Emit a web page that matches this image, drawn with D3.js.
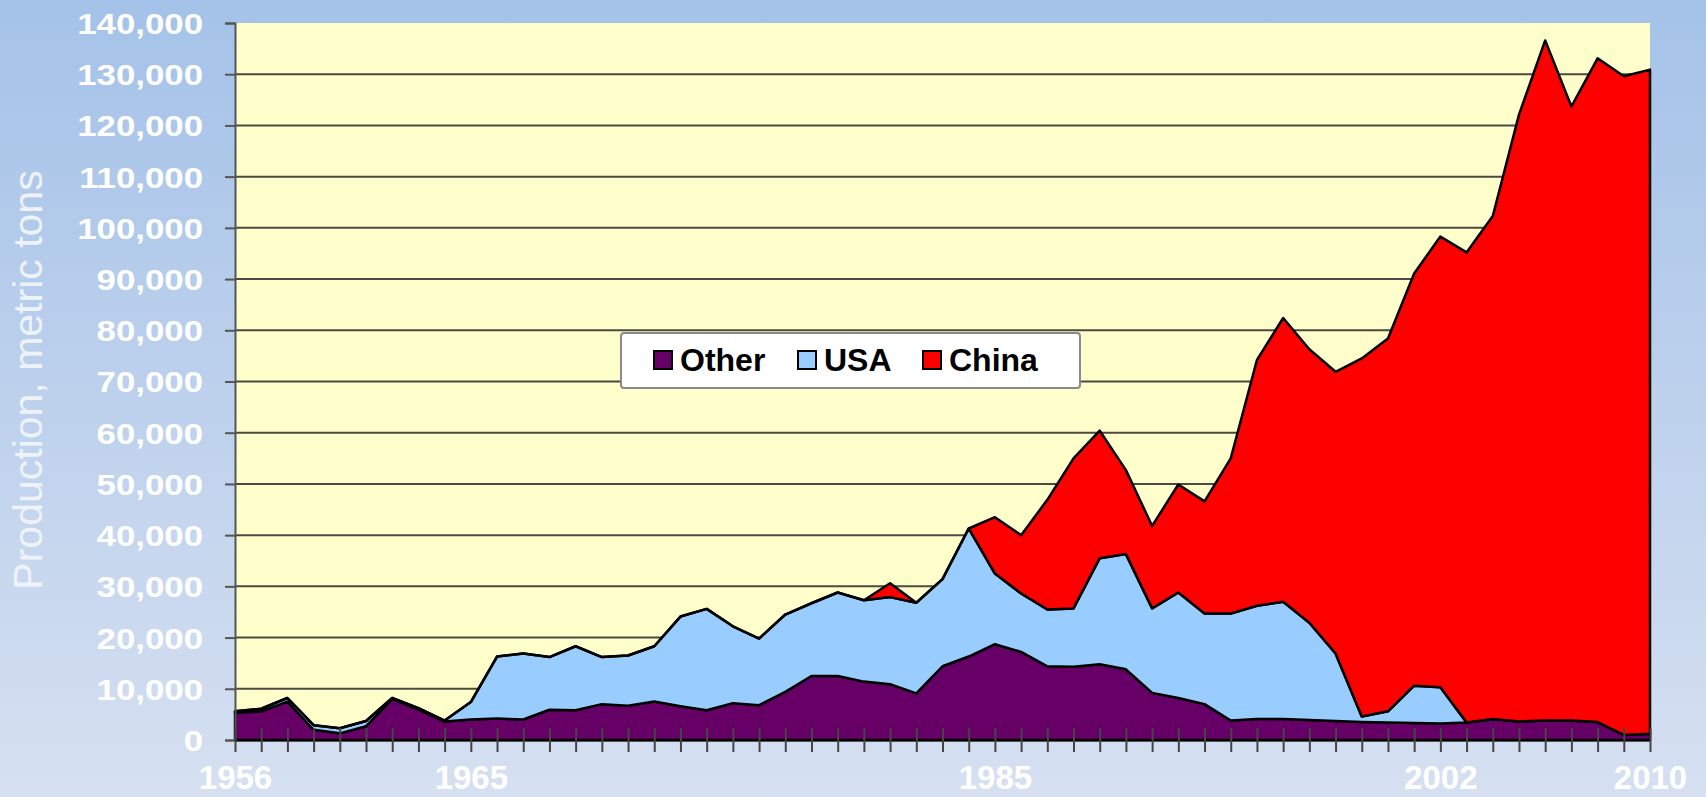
<!DOCTYPE html>
<html><head><meta charset="utf-8">
<script src="https://cdn.jsdelivr.net/npm/d3@7"></script>
<style>html,body{margin:0;padding:0;overflow:hidden;background:#c0d0ec}</style>
</head><body>
<svg id="chart" width="1706" height="797"></svg>
<script>
const years = [1956,1957,1958,1959,1960,1961,1962,1963,1964,1965,
  1966,1967,1968,1969,1970,1971,1972,1973,1974,1975,
  1976,1977,1978,1979,1980,1981,1982,1983,1984,1985,
  1986,1987,1988,1989,1990,1991,1992,1993,1994,1995,
  1996,1997,1998,1999,2000,2001,2002,2003,2004,2005,
  2006,2007,2008,2009,2010];
const other = [5300,5600,7500,2000,1300,2700,8000,6000,3600,4000,
  4200,4000,5900,5800,7000,6700,7500,6600,5800,7200,
  6800,9400,12500,12500,11400,10900,9100,14400,16300,18700,
  17200,14400,14300,14800,13800,9200,8200,7000,3800,4100,
  4100,3900,3700,3500,3400,3300,3200,3400,4100,3600,
  3800,3800,3500,1000,1200];
const usa = [300,500,700,900,1000,1000,200,200,200,3400,
  12100,12900,10300,12500,9200,9800,10800,17500,19800,15000,
  13000,15100,14200,16300,15900,17000,17700,17000,25000,13800,
  11400,11100,11400,20700,22500,16500,20600,17700,20900,22100,
  22900,19000,13200,1100,2200,7300,7100,0,0,0,
  0,0,0,0,0];
const china = [0,0,0,0,0,0,0,0,0,0,
  0,0,0,0,0,0,0,0,0,0,
  0,0,0,0,0,2700,0,0,0,11000,
  11400,21400,29300,24900,16400,16100,21100,21900,30300,48000,
  55400,53400,55000,69900,72800,80500,88000,91800,98200,118500,
  132800,119900,129600,128600,129700];
const seriesNames = ["Other","USA","China"];
const seriesColors = ["#660066","#99CCFF","#FF0000"];
const yTicks = [0,10000,20000,30000,40000,50000,60000,70000,80000,90000,100000,110000,120000,130000,140000];
const xLabels = [1956,1965,1985,2002,2010];
const yTitle = "Production, metric tons";

const W = 1706, H = 797;
const L = 235, R = 1650, T = 23, B = 740;
const FONT = "'Liberation Sans', Arial, Helvetica, sans-serif";

const svg = d3.select("#chart");
const defs = svg.append("defs");
const grad = defs.append("linearGradient").attr("id","bg")
  .attr("x1",0).attr("y1",0).attr("x2",0).attr("y2",1);
grad.append("stop").attr("offset","0%").attr("stop-color","#A4C2E8");
grad.append("stop").attr("offset","100%").attr("stop-color","#D6E0F1");
svg.append("rect").attr("width",W).attr("height",H).attr("fill","url(#bg)");

const x = d3.scaleLinear().domain([years[0], years[years.length-1]]).range([L, R]);
const y = d3.scaleLinear().domain([0, 140000]).range([B, T]);

// plot area
svg.append("rect").attr("x",L).attr("y",y(140000)).attr("width",R-L).attr("height",B-y(140000))
  .attr("fill","#FFFFCC");

// gridlines
svg.append("g").selectAll("line")
  .data(yTicks.filter(d => d > 0 && d < 140000))
  .join("line")
  .attr("x1",L).attr("x2",R)
  .attr("y1",d => y(d)).attr("y2",d => y(d))
  .attr("stroke","#4a4a42").attr("stroke-width",2);

// stacked areas
const table = years.map((yr,i) => ({year: yr, Other: other[i], USA: usa[i], China: china[i]}));
const stacked = d3.stack().keys(seriesNames)(table);
const area = d3.area().x(d => x(d.data.year)).y0(d => y(d[0])).y1(d => y(d[1]));
svg.append("g").selectAll("path").data(stacked).join("path")
  .attr("d", area)
  .attr("fill",(d,i) => seriesColors[i])
  .attr("stroke","#000").attr("stroke-width",2.5).attr("stroke-linejoin","round");

// y axis
const yAxis = d3.axisLeft(y).tickValues(yTicks).tickSize(10).tickFormat(d3.format(","));
const gy = svg.append("g").attr("transform",`translate(${L},0)`).call(yAxis);
gy.select(".domain").attr("stroke","#555").attr("stroke-width",2);
gy.selectAll(".tick line").attr("stroke","#555").attr("stroke-width",2);
gy.selectAll(".tick text")
  .attr("x",-32/1.2).attr("dy","0.36em")
  .attr("transform","scale(1.2,1)")
  .attr("fill","#FFFFFF").attr("font-family",FONT).attr("font-weight","bold").attr("font-size",29);

// x axis
const xAxis = d3.axisBottom(x).tickValues(years).tickSize(12).tickSizeOuter(0)
  .tickFormat(d => xLabels.includes(d) ? String(d) : "");
const gx = svg.append("g").attr("transform",`translate(0,${B})`).call(xAxis);
gx.select(".domain").attr("stroke","#000").attr("stroke-width",2);
gx.selectAll(".tick line").attr("y1",-12).attr("y2",12).attr("stroke","#444").attr("stroke-width",2);
gx.selectAll(".tick text")
  .attr("y",49).attr("dy",0)
  .attr("fill","#FFFFFF").attr("font-family",FONT).attr("font-weight","bold").attr("font-size",33);

// y title
svg.append("text")
  .attr("transform","translate(42,380) rotate(-90)")
  .attr("text-anchor","middle")
  .attr("font-family",FONT).attr("font-size",41)
  .attr("fill","#EEF3FA")
  .text(yTitle);

// legend
const lg = svg.append("g");
lg.append("rect").attr("x",621).attr("y",333).attr("width",459).attr("height",55).attr("rx",3)
  .attr("fill","#FFFFFF").attr("stroke","#8a8a8a").attr("stroke-width",2);
const legendX = [654, 798, 923];
seriesNames.forEach((n,i) => {
  lg.append("rect").attr("x",legendX[i]).attr("y",351).attr("width",18).attr("height",18)
    .attr("fill",seriesColors[i]).attr("stroke","#000").attr("stroke-width",2);
  lg.append("text").attr("x",legendX[i]+26).attr("y",371)
    .attr("font-family",FONT).attr("font-weight","bold").attr("font-size",32).attr("fill","#000")
    .text(n);
});
</script>
</body></html>
